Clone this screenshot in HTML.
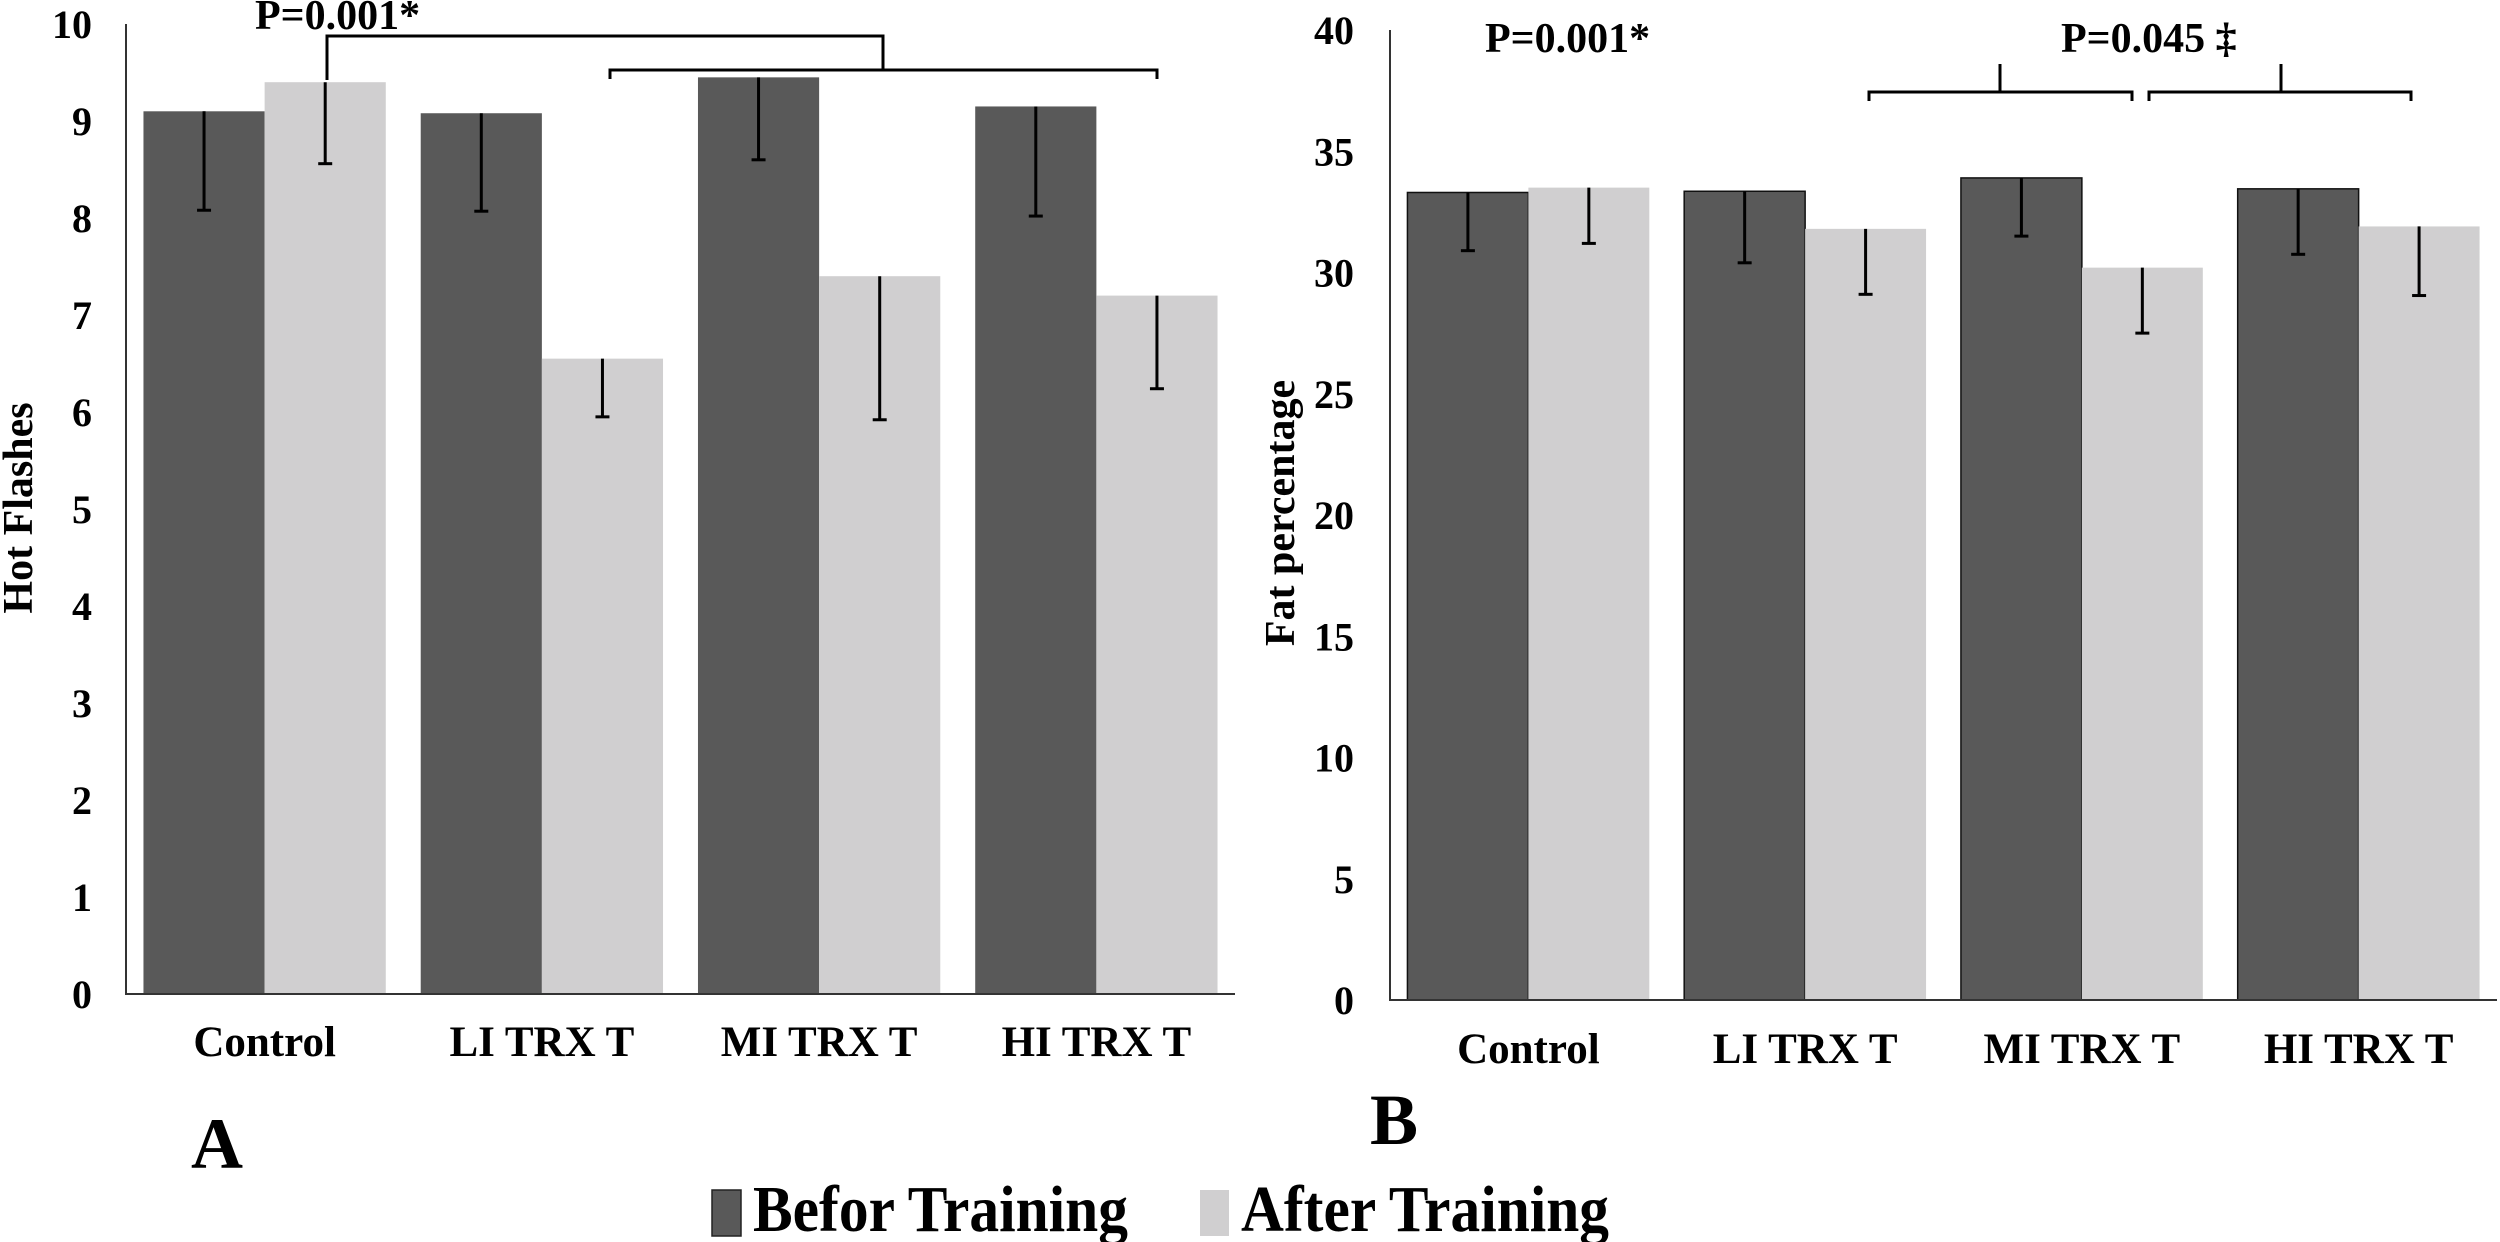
<!DOCTYPE html>
<html><head><meta charset="utf-8">
<style>
html,body{margin:0;padding:0;background:#fff;}
svg{display:block;}
text{font-family:"Liberation Serif",serif;font-weight:bold;fill:#000;}
</style></head>
<body>
<svg id="fig" width="2500" height="1242" viewBox="0 0 2500 1242" xmlns="http://www.w3.org/2000/svg">
  <g id="chartA"></g>
  <g id="chartB"></g>
  <text x="191" y="1168" font-size="72">A</text>
  <text x="1370" y="1144" font-size="72">B</text>
  <g>
    <rect x="712" y="1190" width="29" height="46" fill="#595959" stroke="#222" stroke-width="1.5"/>
    <text x="753" y="1231" font-size="66" textLength="375" lengthAdjust="spacingAndGlyphs">Befor Training</text>
    <rect x="1200" y="1190" width="29" height="46" fill="#d0cfd0"/>
    <text x="1241" y="1231" font-size="66" textLength="368" lengthAdjust="spacingAndGlyphs">After Training</text>
  </g>
</svg>
<script>
const categories = ["Control","LI TRX T","MI TRX T","HI TRX T"];
const hotBefore = [9.1, 9.08, 9.45, 9.15];
const hotAfter  = [9.4, 6.55, 7.4, 7.2];
const hotBeforeErr = [1.02, 1.01, 0.85, 1.13];
const hotAfterErr  = [0.84, 0.6, 1.48, 0.96];
const hotTicks = [0,1,2,3,4,5,6,7,8,9,10];
const fatBefore = [33.3, 33.35, 33.9, 33.45];
const fatAfter  = [33.5, 31.8, 30.2, 31.9];
const fatBeforeErr = [2.4, 2.95, 2.4, 2.7];
const fatAfterErr  = [2.3, 2.7, 2.7, 2.85];
const fatTicks = [0,5,10,15,20,25,30,35,40];

const NS = "http://www.w3.org/2000/svg";
function mk(parent, tag, attrs){
  const e = document.createElementNS(NS, tag);
  for (const k in attrs) e.setAttribute(k, attrs[k]);
  parent.appendChild(e);
  return e;
}

function drawChart(g, cfg){
  const yS = v => cfg.y0 - (v - cfg.min) / (cfg.max - cfg.min) * (cfg.y0 - cfg.yTop);
  const groupW = (cfg.x1 - cfg.x0) / categories.length;
  const barW = groupW * 0.437;
  const cx = i => cfg.x0 + groupW * (i + 0.5);
  categories.forEach((c, i) => {
    const b = cfg.before[i], a = cfg.after[i];
    const rb = mk(g, "rect", {x: cx(i) - barW, y: yS(b), width: barW, height: cfg.y0 - yS(b), fill: "#595959", stroke: cfg.outline ? "#111" : "none", "stroke-width": 1.5});
    
    
    const ra = mk(g, "rect", {x: cx(i), y: yS(a), width: barW, height: cfg.y0 - yS(a), fill: "#d0cfd0"});
    
    
    [[cx(i) - barW/2, b, cfg.beforeErr[i]], [cx(i) + barW/2, a, cfg.afterErr[i]]].forEach(([x, v, e], k) => {
      const eg = mk(g, "g", {stroke: "#000", "stroke-width": 3});
      
      
      mk(eg, "line", {x1: x, x2: x, y1: yS(v), y2: yS(v - e)});
      mk(eg, "line", {x1: x - 7, x2: x + 7, y1: yS(v - e), y2: yS(v - e)});
    });
    const t = mk(g, "text", {x: cx(i), y: cfg.catY, "font-size": 43, "text-anchor": "middle"});
    t.textContent = c;
    
    
  });
  const ax = mk(g, "path", {d: `M${cfg.x0},${cfg.yTop} V${cfg.y0} H${cfg.x1}`, fill: "none", stroke: "#333", "stroke-width": 2});
  
  
  cfg.ticks.forEach(t => {
    const tx = mk(g, "text", {x: cfg.tickX, y: yS(t) + 14, "font-size": 40, "text-anchor": "end"});
    tx.textContent = t;
    
    
  });
  const yl = mk(g, "text", {x: 0, y: 0, "font-size": 42, "text-anchor": "middle", transform: `translate(${cfg.ylX},${cfg.ylY}) rotate(-90)`});
  yl.textContent = cfg.ylabel;
  
  
}

const gA = document.getElementById("chartA");
drawChart(gA, {x0:126, x1:1235, y0:994, yTop:24, min:0, max:10, before:hotBefore, after:hotAfter, beforeErr:hotBeforeErr, afterErr:hotAfterErr, ticks:hotTicks, tickX:92, catY:1056, ylabel:"Hot Flashes", ylX:32, ylY:508, outline:false});
const gB = document.getElementById("chartB");
drawChart(gB, {x0:1390, x1:2497, y0:1000, yTop:30, min:0, max:40, before:fatBefore, after:fatAfter, beforeErr:fatBeforeErr, afterErr:fatAfterErr, ticks:fatTicks, tickX:1354, catY:1063, ylabel:"Fat percentage", ylX:1294, ylY:513, outline:true});

function bracket(g, name, d){
  const p = mk(g, "path", {d: d, fill: "none", stroke: "#000", "stroke-width": 3});
  
  
}
function label(g, name, x, y, s){
  const t = mk(g, "text", {x: x, y: y, "font-size": 42});
  t.textContent = s;
  
  
}
bracket(gA, 'bracket-control', "M327,80 V36 H883 V70");
bracket(gA, 'bracket-training', "M610,79 V70 H1157 V79");
label(gA, 'p-value-hot-flashes', 255, 29, "P=0.001*");
bracket(gB, 'bracket-li-mi', "M1869,101 V92 H2132 V101 M2000,92 V64");
bracket(gB, 'bracket-mi-hi', "M2149,101 V92 H2411 V101 M2281,92 V64");
label(gB, 'p-value-fat-control', 1485, 52, "P=0.001*");
label(gB, 'p-value-fat-training', 2061, 52, "P=0.045 ‡");
</script>
</body></html>
